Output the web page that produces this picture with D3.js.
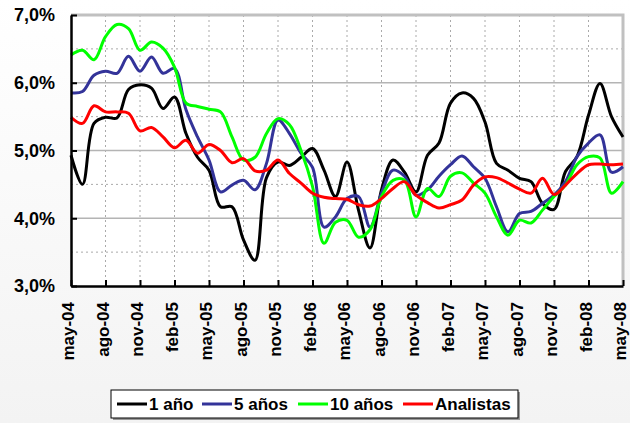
<!DOCTYPE html>
<html>
<head>
<meta charset="utf-8">
<script src="https://cdn.jsdelivr.net/npm/d3@7"></script>
<style>
  body { margin: 0; }
  svg { display: block; font-family: "Liberation Sans", Arial, sans-serif; font-weight: bold; }
</style>
</head>
<body>
<script>
// etiquetas del eje x (cada 3 meses)
var tickLabels = ["may-04","ago-04","nov-04","feb-05","may-05","ago-05","nov-05","feb-06","may-06",
                  "ago-06","nov-06","feb-07","may-07","ago-07","nov-07","feb-08","may-08"]

var seriesNames = ["1 año", "5 años", "10 años", "Analistas"]
var colors = ["#000000", "#333399", "#00ff00", "#ff0000"]

// valores mensuales may-04 .. may-08 (49 meses)
var uno = [4.93,4.50,5.40,5.49,5.48,5.90,5.97,5.92,5.62,5.79,5.25,4.90,4.71,4.17,4.17,3.68,3.38,4.60,4.83,4.78,4.90,5.03,
           4.71,4.32,4.83,4.12,3.56,4.42,4.86,4.68,4.39,4.93,5.11,5.70,5.85,5.77,5.42,4.81,4.71,4.59,4.54,4.22,4.13,4.69,
           4.91,5.52,5.99,5.50,5.20]
var cinco = [5.85,5.87,6.11,6.17,6.14,6.39,6.17,6.38,6.14,6.21,5.60,5.20,4.86,4.39,4.49,4.56,4.42,4.81,5.45,5.25,4.96,4.75,
             3.87,4.02,4.29,4.32,3.87,4.37,4.71,4.62,4.34,4.42,4.62,4.79,4.92,4.76,4.59,4.17,3.80,4.07,4.10,4.22,4.34,4.54,
             4.91,5.11,5.23,4.68,4.76]
var diez = [6.41,6.48,6.34,6.68,6.86,6.80,6.48,6.60,6.51,6.23,5.70,5.65,5.61,5.57,5.20,4.86,4.90,5.25,5.47,5.38,5.00,4.47,
            3.63,3.94,3.97,3.72,3.83,4.32,4.56,4.56,4.02,4.44,4.32,4.62,4.67,4.52,4.37,4.02,3.75,3.97,3.93,4.12,4.32,4.49,
            4.79,4.91,4.89,4.37,4.54]
var analistas = [5.49,5.40,5.66,5.57,5.57,5.55,5.29,5.34,5.20,5.04,5.15,4.96,5.09,5.00,4.82,4.88,4.70,4.71,4.86,4.66,4.52,4.37,
                 4.31,4.29,4.28,4.20,4.18,4.29,4.44,4.54,4.34,4.23,4.15,4.20,4.27,4.49,4.61,4.60,4.52,4.43,4.37,4.59,4.35,4.49,
                 4.66,4.79,4.80,4.79,4.80]

var allSeries = [uno, cinco, diez, analistas]

var width = 630
var height = 423
var margin = {top: 15, right: 7, bottom: 137, left: 71}
var innerW = width - margin.left - margin.right
var innerH = height - margin.top - margin.bottom

var svg = d3.select("body").append("svg")
    .attr("width", width)
    .attr("height", height)

// fondo con degradado suave
var grad = svg.append("defs").append("linearGradient")
    .attr("id", "bg").attr("x1", 0).attr("y1", 0).attr("x2", 0).attr("y2", 1)
grad.append("stop").attr("offset", "0%").attr("stop-color", "#ffffff")
grad.append("stop").attr("offset", "100%").attr("stop-color", "#f3f3f3")
svg.append("rect").attr("width", width).attr("height", height).attr("fill", "url(#bg)")

var g = svg.append("g")
    .attr("transform", `translate(${margin.left},${margin.top})`)

var x = d3.scaleLinear().domain([0, uno.length - 1]).range([0, innerW])
var y = d3.scaleLinear().domain([3, 7]).range([innerH, 0])

g.append("rect").attr("width", innerW).attr("height", innerH).attr("fill", "#ffffff")

// rejilla
var tickIdx = tickLabels.map((d, i) => i * 3)
g.selectAll(".vgrid")
  .data(tickIdx.slice(1, -1))
  .enter().append("line")
  .attr("x1", d => x(d)).attr("x2", d => x(d))
  .attr("y1", 0).attr("y2", innerH)
  .attr("stroke", "#aaaaaa").attr("stroke-dasharray", "2,3")

g.selectAll(".hdash")
  .data([3.5, 4.5, 5.5, 6.5])
  .enter().append("line")
  .attr("x1", 0).attr("x2", innerW)
  .attr("y1", d => y(d)).attr("y2", d => y(d))
  .attr("stroke", "#aaaaaa").attr("stroke-dasharray", "2,3")

g.selectAll(".hsolid")
  .data([4, 5, 6])
  .enter().append("line")
  .attr("x1", 0).attr("x2", innerW)
  .attr("y1", d => y(d)).attr("y2", d => y(d))
  .attr("stroke", "#b4b4b4").attr("stroke-width", 1.3)

// borde superior y derecho
g.append("path")
  .attr("d", `M0,0H${innerW}V${innerH}`)
  .attr("fill", "none").attr("stroke", "#c0c0c0").attr("stroke-width", 3)

// lineas
var line = d3.line()
  .x((d, i) => x(i))
  .y(d => y(d))
  .curve(d3.curveCatmullRom.alpha(0.5))

g.selectAll(".serie")
  .data(allSeries)
  .enter().append("path")
  .attr("d", line)
  .attr("fill", "none")
  .attr("stroke", (d, i) => colors[i])
  .attr("stroke-width", 3)
  .attr("stroke-linejoin", "round")

// eje y
var yAxis = d3.axisLeft(y).tickValues([3, 4, 5, 6, 7])
  .tickSizeInner(-6).tickSizeOuter(0).tickPadding(16)
  .tickFormat(d => d3.format(".1f")(d).replace(".", ",") + "%")
var ya = g.append("g").call(yAxis)
ya.select(".domain").attr("stroke", "#000").attr("stroke-width", 2.5)
ya.selectAll(".tick line").attr("stroke", "#000").attr("stroke-width", 2)
ya.selectAll("text").attr("font-size", 18).attr("font-weight", "bold").attr("fill", "#000")
  .attr("font-family", "Liberation Sans, Arial, sans-serif")

// eje x
var xAxis = d3.axisBottom(x).tickValues(tickIdx)
  .tickSizeInner(-6).tickSizeOuter(0)
  .tickFormat((d, i) => tickLabels[i])
var xa = g.append("g").attr("transform", `translate(0,${innerH})`).call(xAxis)
xa.select(".domain").attr("stroke", "#000").attr("stroke-width", 2.5)
xa.selectAll(".tick line").attr("stroke", "#000").attr("stroke-width", 2)
xa.selectAll("text")
  .attr("font-size", 17).attr("font-weight", "bold").attr("fill", "#000")
  .attr("font-family", "Liberation Sans, Arial, sans-serif")
  .attr("text-anchor", "end")
  .attr("transform", "rotate(-90)")
  .attr("x", -16).attr("y", 0).attr("dy", "0.15em")

// leyenda
var legend = svg.append("g").attr("transform", "translate(111,390)")
legend.append("rect")
  .attr("x", 2).attr("y", 2).attr("width", 407).attr("height", 28).attr("fill", "#999")
legend.append("rect")
  .attr("width", 407).attr("height", 28)
  .attr("fill", "#fff").attr("stroke", "#000").attr("stroke-width", 1)

var legX = [6, 91, 187, 292]
var item = legend.selectAll(".item")
  .data(seriesNames)
  .enter().append("g")
  .attr("transform", (d, i) => `translate(${legX[i]},14)`)
item.append("line")
  .attr("x1", 0).attr("x2", 30)
  .attr("stroke", (d, i) => colors[i]).attr("stroke-width", 3)
item.append("text")
  .attr("x", 32).attr("dy", "0.35em")
  .attr("font-size", 17)
  .text(d => d)
</script>
</body>
</html>
